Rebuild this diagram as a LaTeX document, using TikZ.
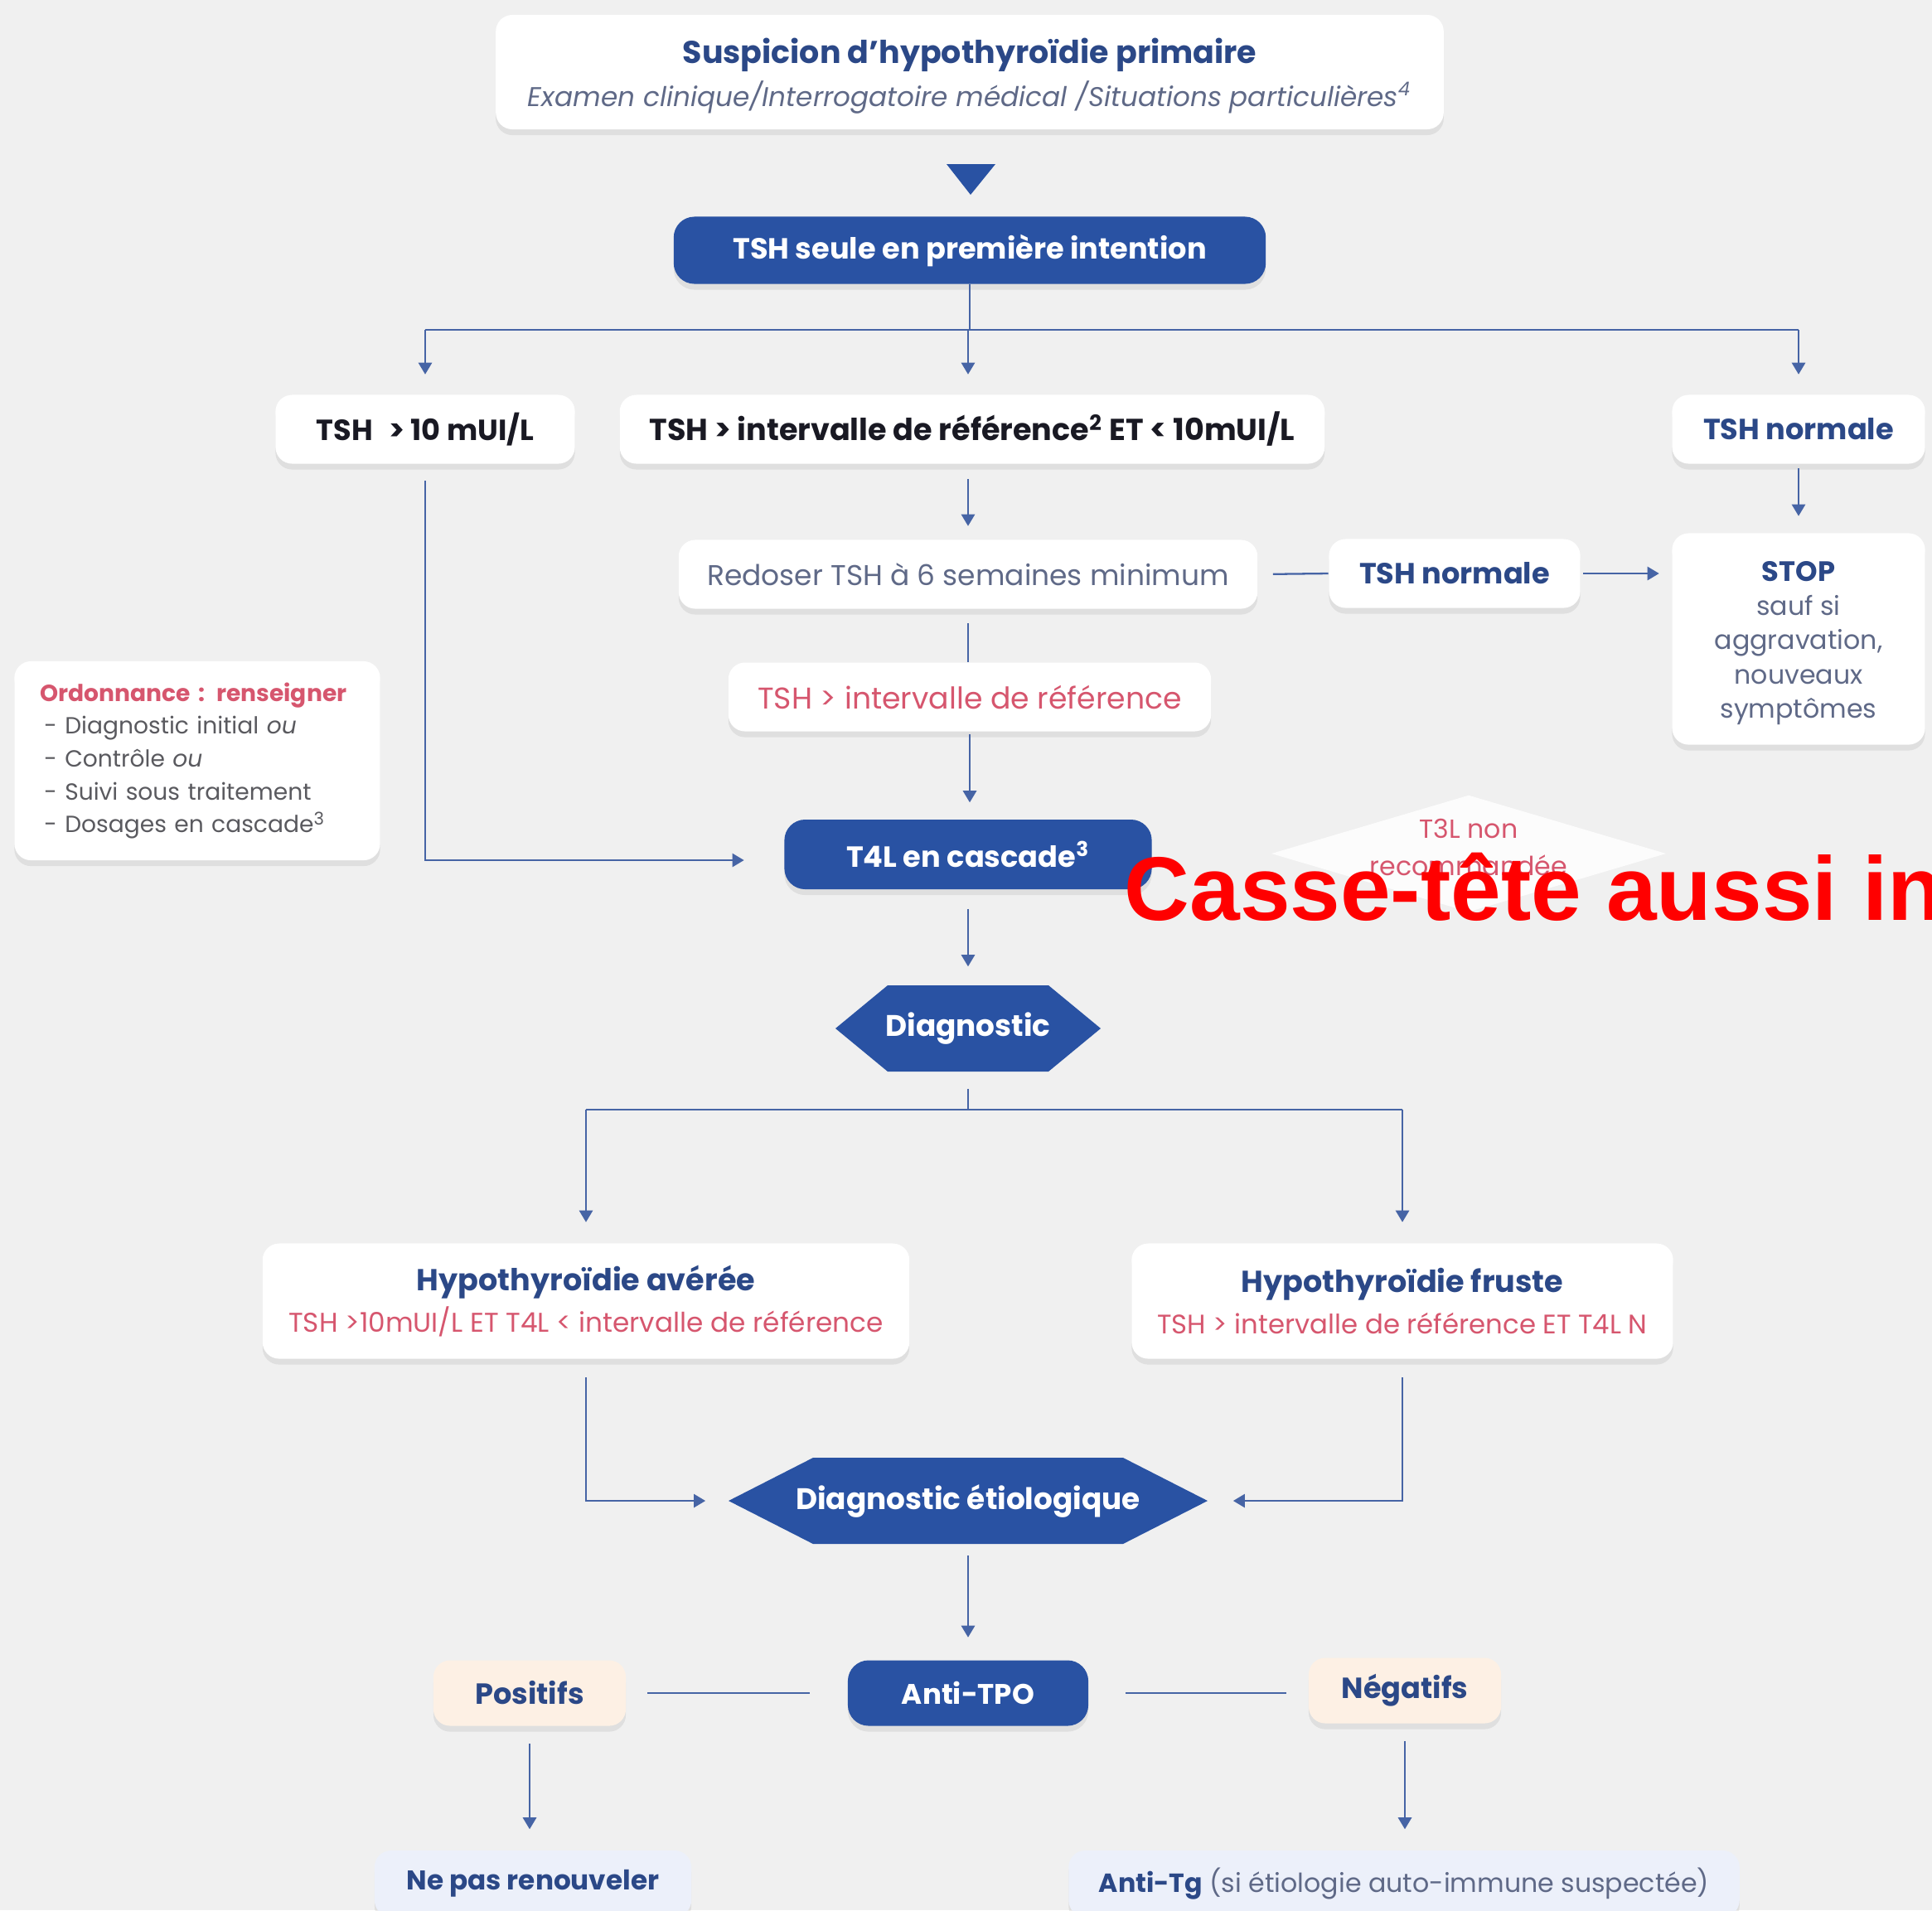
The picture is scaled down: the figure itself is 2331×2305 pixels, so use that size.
\documentclass[tikz,border=0pt]{standalone}
\usepackage{fontspec}
\setmainfont{Poppins}
\newfontfamily\redfont{Liberation Sans}
\usetikzlibrary{arrows.meta,shapes.geometric,shadows,calc}
\definecolor{bgc}{RGB}{240,240,240}
\definecolor{tblue}{RGB}{41,82,163}
\definecolor{navy}{RGB}{43,72,135}
\definecolor{redt}{RGB}{214,86,110}
\definecolor{grayt}{RGB}{95,105,135}
\definecolor{lc}{RGB}{70,100,165}
\definecolor{peach}{RGB}{253,240,228}
\definecolor{lblue}{RGB}{236,240,250}
\definecolor{blk}{RGB}{25,25,35}
\definecolor{ordg}{RGB}{90,90,95}
\newcommand{\fs}[1]{\fontsize{#1}{\fpeval{#1*1.2}}\selectfont}
\newcommand{\fsb}[2]{\fontsize{#1}{#2}\selectfont}
\begin{document}
\begin{tikzpicture}[x=0.01cm,y=-0.01cm,
  shad/.style={drop shadow={shadow xshift=0pt,shadow yshift=-2pt,opacity=0.07,fill=black}},
  wbox/.style={rounded corners=0.2cm,fill=white,shad,inner sep=0pt,minimum height=0.83cm},
  bbox/.style={rounded corners=0.25cm,fill=tblue,shad,inner sep=0pt,minimum height=0.82cm,text=white,font=\bfseries\fs{10}},
  hexa/.style={rectangle,inner sep=0pt,minimum height=1.04cm,text=white,font=\bfseries\fs{10.2}},
  ln/.style={draw=lc,line width=0.65pt},
  arr/.style={ln,-{Triangle[width=4.6pt,length=4pt]}}
]
\fill[bgc] (0,0) rectangle (2331,2305);
\useasboundingbox (0,0) rectangle (2331,2305);

% top
\node[wbox,minimum width=11.43cm,minimum height=1.38cm] (top) at (1170,87) {};
\node[align=center,inner sep=0pt] (toptxt) at (1170,92)
 {{\bfseries\fs{10.8}\color{navy}Suspicion d'hypothyroïdie primaire}\\[0.1cm]
  {\itshape\fs{9.3}\color{grayt}Examen clinique/Interrogatoire médical /Situations particulières\textsuperscript{4}}};
\fill[tblue] (1142,198) -- (1201,198) -- (1171,235) -- cycle;

\node[bbox,minimum width=7.14cm,minimum height=0.81cm] (seule) at (1170,302) {TSH seule en première intention};

% row 2
\node[wbox,minimum width=3.61cm,font=\bfseries\fs{10},text=blk] (t10) at (513,518) {TSH\hspace{0.55em}> 10 mUI/L};
\node[wbox,minimum width=8.50cm,font=\bfseries\fs{10.4},text=blk] (tint) at (1173,518) {TSH > intervalle de référence\textsuperscript{2} ET < 10mUI/L};
\node[wbox,minimum width=3.05cm,font=\bfseries\fs{10},text=navy] (tn1) at (2170,518) {TSH normale};

\coordinate (j1) at (1168,398);
\draw[ln] (seule.south) -- (seule.south |- j1);
\draw[ln] (t10.north |- j1) -- (tn1.north |- j1);
\draw[arr,shorten >=0.24cm] (t10.north |- j1) -- (t10.north);
\draw[arr,shorten >=0.24cm] (j1) -- (j1 |- tint.north);
\draw[arr,shorten >=0.24cm] (tn1.north |- j1) -- (tn1.north);

% row 3
\node[wbox,minimum width=6.98cm,font=\fs{9.8},text=grayt] (redo) at (1168,693) {Redoser TSH à 6 semaines minimum};
\node[wbox,minimum width=3.03cm,font=\bfseries\fs{10},text=navy] (tn2) at (1755,692) {TSH normale};
\node[wbox,minimum width=3.05cm,minimum height=2.55cm] (stop) at (2170,771) {};
\node[align=center,inner sep=0pt,font=\fsb{9}{11.7},text=grayt] (stoptxt) at (2170,776)
 {{\bfseries\fs{9.6}\color{navy}STOP}\\sauf si\\aggravation,\\nouveaux\\symptômes};

\draw[arr,shorten <=0.18cm,shorten >=0.16cm] (redo.north |- tint.south) -- (redo.north);
\draw[ln,shorten <=0.18cm] (redo.east) -- (tn2.west);
\draw[arr,shorten <=0.03cm,shorten >=0.15cm] (tn2.east) -- (tn2.east -| stop.west);
\draw[arr,shorten <=0.05cm,shorten >=0.2cm] (tn1.south) -- (stop.north);

\node[wbox,minimum width=5.82cm,font=\fs{10.3},text=redt] (tref) at (1170,841) {TSH > intervalle de référence};
\draw[ln,shorten <=0.17cm] (redo.south) -- (redo.south |- tref.north);

\node[bbox,minimum width=4.43cm,minimum height=0.84cm] (t4l) at (1168,1031) {T4L en cascade\textsuperscript{3}};
\draw[arr,shorten <=0.03cm,shorten >=0.2cm] (tref.south) -- (tref.south |- t4l.north);
\draw[arr,shorten <=0.2cm,shorten >=0.48cm] (t10.south) |- ($(t4l.west)+(0,7)$);

% ordonnance
\node[wbox,minimum height=2.40cm,text width=3.79cm,inner xsep=0.31cm,align=left,font=\fsb{8}{11.3},text=ordg] (ord) at (238,918)
 {{\bfseries\color{redt}Ordonnance : renseigner}\\
  \hspace*{0.05cm}- Diagnostic initial \textit{ou}\\
  \hspace*{0.05cm}- Contrôle \textit{ou}\\
  \hspace*{0.05cm}- Suivi sous traitement\\
  \hspace*{0.05cm}- Dosages en cascade\textsuperscript{3}};

% T3L diamond
\node[diamond,fill=white,fill opacity=0.85,minimum width=4.76cm,minimum height=1.41cm,inner sep=0pt] (t3d) at (1772,1030) {};
\node[align=center,text=redt,font=\fsb{9}{12.8},inner sep=0pt] (t3l) at (1772,1022) {T3L non\\recommandée};

% diagnostic (hexagon)
\coordinate (dc) at (1168,1241);
\fill[tblue] ($(dc)+(-160,0)$) -- ($(dc)+(-97,-52)$) -- ($(dc)+(97,-52)$) -- ($(dc)+(160,0)$)
  -- ($(dc)+(97,52)$) -- ($(dc)+(-97,52)$) -- cycle;
\node[hexa,minimum width=3.2cm] (diag) at (dc) {Diagnostic};
\draw[arr,shorten <=0.23cm,shorten >=0.22cm] (t4l.south) -- (diag.north);

\node[wbox,minimum width=7.80cm,minimum height=1.39cm,align=center] (avere) at (707,1570)
 {{\bfseries\fs{10.4}\color{navy}Hypothyroïdie avérée}\\[0.08cm]{\fs{9.3}\color{redt}TSH >10mUI/L ET T4L < intervalle de référence}};
\node[wbox,minimum width=6.53cm,minimum height=1.39cm,align=center] (fruste) at (1692,1570)
 {{\bfseries\fs{10.4}\color{navy}Hypothyroïdie fruste}\\[0.08cm]{\fs{9.2}\color{redt}TSH > intervalle de référence ET T4L N}};

\coordinate (j2) at (1168,1339);
\draw[ln,shorten <=0.2cm] (diag.south) -- (diag.south |- j2);
\draw[ln] (avere.north |- j2) -- (fruste.north |- j2);
\draw[arr,shorten >=0.25cm] (avere.north |- j2) -- (avere.north);
\draw[arr,shorten >=0.25cm] (fruste.north |- j2) -- (fruste.north);

% diagnostic etiologique (hexagon)
\coordinate (ec) at (1168,1811);
\fill[tblue] ($(ec)+(-289,0)$) -- ($(ec)+(-187,-52)$) -- ($(ec)+(187,-52)$) -- ($(ec)+(289,0)$)
  -- ($(ec)+(187,52)$) -- ($(ec)+(-187,52)$) -- cycle;
\node[hexa,minimum width=5.78cm] (etio) at (ec) {Diagnostic étiologique};
\draw[arr,shorten <=0.22cm,shorten >=0.27cm] (avere.south) |- (etio.west);
\draw[arr,shorten <=0.22cm,shorten >=0.30cm] (fruste.south) |- (etio.east);

% anti-TPO
\node[bbox,font=\bfseries\fs{9.7},minimum width=2.90cm,minimum height=0.79cm] (atpo) at (1168,2043) {Anti-TPO};
\node[wbox,fill=peach,minimum width=2.32cm,minimum height=0.79cm,font=\bfseries\fs{10},text=navy] (pos) at (639,2043) {Positifs};
\node[wbox,fill=peach,minimum width=2.32cm,minimum height=0.79cm,font=\bfseries\fs{10},text=navy] (neg) at (1695,2040) {Négatifs};
\draw[arr,shorten <=0.13cm,shorten >=0.27cm] (etio.south) -- (atpo.north);
\draw[ln,shorten <=0.45cm,shorten >=0.25cm] (atpo.west) -- (pos.east);
\draw[ln,shorten <=0.44cm,shorten >=0.26cm] (atpo.east) -- (atpo.east -| neg.west);

\node[wbox,fill=lblue,minimum width=3.82cm,minimum height=0.80cm,font=\bfseries\fs{9.3},text=navy] (nepas) at (643,2273) {Ne pas renouveler};
\node[wbox,fill=lblue,minimum width=8.09cm,minimum height=0.80cm,font=\fs{9},text=grayt] (antitg) at (1694,2273) {{\bfseries\color{navy}Anti-Tg} (si étiologie auto-immune suspectée)};
\draw[arr,shorten <=0.21cm,shorten >=0.25cm] (pos.south) -- (pos.south |- nepas.north);
\draw[arr,shorten <=0.21cm,shorten >=0.25cm] (neg.south) -- (neg.south |- antitg.north);

% overlay
\node[anchor=base west,inner sep=0pt,font=\redfont\bfseries\fontsize{31}{36}\selectfont,text=red] (casse) at (1356,1110) {Casse-tête aussi in};
\end{tikzpicture}
\end{document}
